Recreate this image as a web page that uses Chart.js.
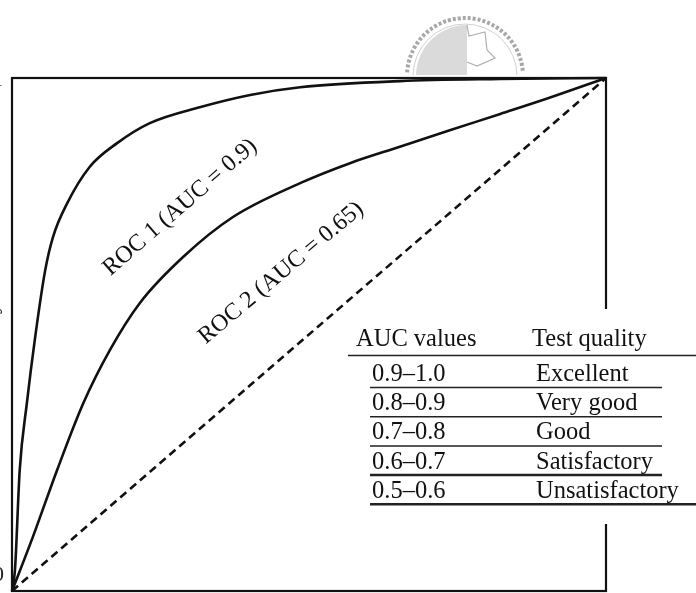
<!DOCTYPE html>
<html>
<head>
<meta charset="utf-8">
<script src="https://cdn.jsdelivr.net/npm/chart.js@4.4.1/dist/chart.umd.min.js"></script>
<style>
  html, body { margin: 0; padding: 0; background: #fff; }
  #wrap { position: relative; width: 696px; height: 593px; overflow: hidden; }
  canvas { display: block; }
</style>
</head>
<body>
<div id="wrap"><canvas id="roc" width="696" height="593"></canvas></div>
<script>
// ROC curve 1 (false positive rate / true positive rate)
const fpr1 = [0, 0.005, 0.013, 0.025, 0.039, 0.056, 0.069, 0.093, 0.131, 0.177, 0.232, 0.316, 0.401, 0.485, 0.653, 0.822, 1];
const tpr1 = [0, 0.041, 0.236, 0.366, 0.495, 0.626, 0.690, 0.756, 0.827, 0.873, 0.912, 0.943, 0.967, 0.982, 0.994, 0.998, 1];
// ROC curve 2
const fpr2 = [0, 0.035, 0.076, 0.120, 0.165, 0.215, 0.288, 0.372, 0.485, 0.569, 0.653, 0.737, 0.822, 0.906, 1];
const tpr2 = [0, 0.105, 0.236, 0.366, 0.470, 0.561, 0.651, 0.729, 0.795, 0.834, 0.866, 0.898, 0.930, 0.962, 1];
// chance line
const fprChance = [0, 1];
const tprChance = [0, 1];

const curveNames = ['ROC 1', 'ROC 2'];
const aucValues = [0.9, 0.65];

// AUC interpretation table
const tableHeader = ['AUC values', 'Test quality'];
const aucRanges = ['0.9\u20131.0', '0.8\u20130.9', '0.7\u20130.8', '0.6\u20130.7', '0.5\u20130.6'];
const qualityLabels = ['Excellent', 'Very good', 'Good', 'Satisfactory', 'Unsatisfactory'];

const toPoints = (xs, ys) => xs.map((x, i) => ({ x, y: ys[i] }));

const SERIF = '"Liberation Serif", "DejaVu Serif", serif';

// frame around the plot area
const framePlugin = {
  id: 'frame',
  beforeDatasetsDraw(chart) {
    const { ctx, chartArea: a } = chart;
    ctx.save();
    ctx.strokeStyle = '#111';
    ctx.lineWidth = 2.2;
    ctx.strokeRect(a.left, a.top, a.right - a.left, a.bottom - a.top);
    ctx.restore();
  }
};

// emblem above the frame
const emblemPlugin = {
  id: 'emblem',
  beforeDraw(chart) {
    const { ctx } = chart;
    const cx = 465, cy = 76, r = 62;
    ctx.save();
    ctx.beginPath();
    ctx.rect(0, 0, 696, 75);
    ctx.clip();
    // outer ring
    ctx.strokeStyle = '#a8a8a8';
    ctx.lineWidth = 4;
    ctx.setLineDash([3, 2]);
    ctx.beginPath();
    ctx.arc(cx, cy, r - 4, Math.PI * 1.02, Math.PI * 1.98);
    ctx.stroke();
    ctx.setLineDash([]);
    ctx.strokeStyle = '#d0d0d0';
    ctx.lineWidth = 1;
    ctx.beginPath();
    ctx.arc(cx, cy, r - 10, Math.PI, 2 * Math.PI);
    ctx.stroke();
    // shaded left half of the inner disc
    ctx.fillStyle = '#dadada';
    ctx.beginPath();
    ctx.moveTo(cx + 2, cy);
    ctx.arc(cx + 2, cy, r - 11, Math.PI, 1.5 * Math.PI);
    ctx.closePath();
    ctx.fill();
    // outline of the map on the right half
    ctx.strokeStyle = '#b0b0b0';
    ctx.lineWidth = 1.2;
    ctx.beginPath();
    ctx.moveTo(cx + 2, cy - r + 11);
    ctx.lineTo(cx + 4, cy - 40);
    ctx.lineTo(cx + 20, cy - 44);
    ctx.lineTo(cx + 22, cy - 26);
    ctx.lineTo(cx + 30, cy - 18);
    ctx.lineTo(cx + 12, cy - 10);
    ctx.lineTo(cx + 2, cy - 14);
    ctx.stroke();
    ctx.restore();
  }
};

// rotated curve labels
const curveLabelPlugin = {
  id: 'curveLabels',
  afterDatasetsDraw(chart, args, opts) {
    const { ctx, scales } = chart;
    ctx.save();
    ctx.fillStyle = '#111';
    ctx.font = '24px ' + SERIF;
    ctx.textAlign = 'center';
    ctx.textBaseline = 'middle';
    opts.items.forEach((it, i) => {
      const px = scales.x.getPixelForValue(it.at[0]);
      const py = scales.y.getPixelForValue(it.at[1]);
      ctx.save();
      ctx.translate(px, py);
      ctx.rotate(it.angle * Math.PI / 180);
      ctx.fillText(curveNames[i] + ' (AUC = ' + aucValues[i] + ')', 0, 0);
      ctx.restore();
    });
    ctx.restore();
  }
};

// table drawn over the right edge of the frame
const tablePlugin = {
  id: 'aucTable',
  afterDraw(chart) {
    const { ctx } = chart;
    ctx.save();
    ctx.fillStyle = '#fff';
    ctx.fillRect(346, 309, 350, 215);

    ctx.fillStyle = '#111';
    ctx.font = '24.5px ' + SERIF;
    ctx.textBaseline = 'alphabetic';
    ctx.textAlign = 'left';
    ctx.fillText(tableHeader[0], 356, 346);
    ctx.fillText(tableHeader[1], 532, 346);

    ctx.strokeStyle = '#222';
    ctx.lineWidth = 1.5;
    ctx.beginPath();
    ctx.moveTo(348, 355.5); ctx.lineTo(696, 355.5);
    ctx.stroke();

    const rowH = 29.2;
    aucRanges.forEach((r, i) => {
      const base = 381 + i * rowH;
      ctx.fillText(r, 372, base);
      ctx.fillText(qualityLabels[i], 536, base);
      const ly = base + 6.5;
      const last = i === aucRanges.length - 1;
      ctx.lineWidth = (i >= 3) ? 2.5 : 1.5;
      ctx.beginPath();
      ctx.moveTo(370, ly);
      ctx.lineTo(last ? 696 : 662, ly);
      ctx.stroke();
    });
    ctx.restore();
  }
};

// axis title and tick labels just outside the left edge
const edgeTextPlugin = {
  id: 'edgeText',
  afterDraw(chart) {
    const { ctx } = chart;
    ctx.save();
    ctx.fillStyle = '#222';
    ctx.font = '22px ' + SERIF;
    ctx.textAlign = 'center';
    ctx.textBaseline = 'middle';
    ctx.save();
    ctx.translate(-9, 350);
    ctx.rotate(-Math.PI / 2);
    ctx.fillText('Sensitivity', 0, 0);
    ctx.restore();
    ctx.textAlign = 'right';
    ctx.fillText('0', 4, 575);
    ctx.fillText('1', 3, 80);
    ctx.restore();
  }
};

new Chart(document.getElementById('roc'), {
  type: 'line',
  data: {
    datasets: [
      {
        label: curveNames[0],
        data: toPoints(fpr1, tpr1),
        borderColor: '#111',
        borderWidth: 2.6,
        pointRadius: 0,
        cubicInterpolationMode: 'monotone',
        fill: false,
        clip: false
      },
      {
        label: curveNames[1],
        data: toPoints(fpr2, tpr2),
        borderColor: '#111',
        borderWidth: 2.6,
        pointRadius: 0,
        cubicInterpolationMode: 'monotone',
        fill: false,
        clip: false
      },
      {
        label: 'Chance',
        data: toPoints(fprChance, tprChance),
        borderColor: '#111',
        borderWidth: 2.6,
        borderDash: [8, 5],
        pointRadius: 0,
        fill: false,
        clip: false
      }
    ]
  },
  options: {
    responsive: false,
    animation: false,
    layout: { padding: { left: 12, top: 78, right: 90, bottom: 2 } },
    scales: {
      x: { type: 'linear', min: 0, max: 1, display: false },
      y: { type: 'linear', min: 0, max: 1, display: false }
    },
    plugins: {
      legend: { display: false },
      tooltip: { enabled: false },
      curveLabels: {
        items: [
          { at: [0.283, 0.748], angle: -41 },
          { at: [0.453, 0.620], angle: -40 }
        ]
      }
    }
  },
  plugins: [emblemPlugin, framePlugin, curveLabelPlugin, tablePlugin, edgeTextPlugin]
});
</script>
</body>
</html>
